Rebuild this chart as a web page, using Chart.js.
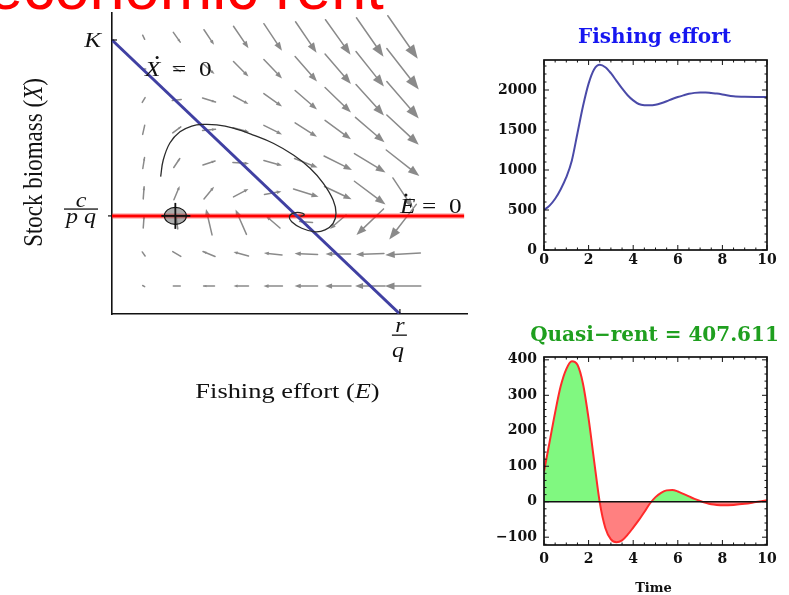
<!DOCTYPE html>
<html>
<head>
<meta charset="utf-8">
<script src="https://cdn.jsdelivr.net/npm/chart.js@4.4.1/dist/chart.umd.min.js"></script>
<style>
  html, body { margin: 0; padding: 0; background: #fff; width: 789px; height: 595px; overflow: hidden; }
  body { position: relative; }
  canvas { position: absolute; }
  #heading { position: absolute; left: -12px; top: -44px; font: 63px/62px "Liberation Sans", Arial, sans-serif; color: #ff0000; white-space: nowrap; }
</style>
</head>
<body>
<div id="heading">economic rent</div>
<canvas id="phase" width="480" height="410" style="left:0;top:0"></canvas>
<canvas id="effort" width="309" height="300" style="left:480px;top:0"></canvas>
<canvas id="rent" width="309" height="295" style="left:480px;top:300px"></canvas>
<script>
// ---- Phase plane (effort E on x, stock biomass X on y; K = 10, r/q = 10) ----
const K = 10;
const rOverQ = 10;
const cOverPQ = 3.58;
const effortAxisMax = 12.33;
const biomassAxisMax = 10.985;
const startE = 2.2;            // marked point on the E-nullcline

// grid of direction-field arrows: centres and components (dE, dX)
const fieldE = [1.1, 2.25, 3.37, 4.48, 5.59, 6.74, 7.85, 8.96, 10.1];
const fieldX = [10.1, 8.94, 7.81, 6.72, 5.51, 4.42, 3.36, 2.19, 1.02];
const fieldU = [
  [0.07, 0.24, 0.35, 0.52, 0.63, 0.73, 0.87, 0.94, 1.04],
  [0.14, 0.24, 0.38, 0.52, 0.63, 0.76, 0.90, 0.97, 1.11],
  [0.10, 0.31, 0.45, 0.52, 0.63, 0.76, 0.90, 0.97, 1.11],
  [0.07, 0.28, 0.45, 0.56, 0.63, 0.76, 0.90, 1.01, 1.11],
  [0.06, 0.21, 0.42, 0.56, 0.63, 0.80, 0.97, 1.08, 1.15],
  [0.03, 0.20, 0.35, 0.52, 0.59, 0.87, 0.94, 1.08, 0.69],
  [0.03, -0.07, -0.21, -0.38, -0.49, -0.45, -0.56, -0.94, -0.94],
  [-0.10, -0.28, -0.42, -0.52, -0.63, -0.80, -0.87, -0.97, -1.22],
  [-0.07, -0.24, -0.38, -0.52, -0.66, -0.80, -0.90, -1.04, -1.25]
];
const fieldV = [
  [-0.15, -0.36, -0.55, -0.80, -0.99, -1.13, -1.28, -1.42, -1.57],
  [0.00, -0.18, -0.36, -0.55, -0.69, -0.91, -1.09, -1.28, -1.50],
  [0.18, 0.04, -0.15, -0.29, -0.47, -0.69, -0.91, -1.13, -1.35],
  [0.33, 0.22, 0.04, -0.15, -0.33, -0.51, -0.69, -0.91, -1.09],
  [0.40, 0.33, 0.15, -0.04, -0.18, -0.33, -0.51, -0.69, -0.95],
  [0.44, 0.50, 0.44, 0.29, 0.11, -0.29, -0.47, -0.85, -1.09],
  [0.44, 0.51, 0.95, 0.91, 0.44, 0.04, -0.51, -0.95, -1.28],
  [0.15, 0.18, 0.18, 0.15, 0.07, 0.04, 0.00, -0.04, -0.07],
  [0.04, 0.00, 0.00, 0.00, 0.00, 0.00, 0.00, 0.00, 0.00]
];

// trajectory spiralling into the bionomic equilibrium
const trajE = [1.69, 1.78, 2.01, 2.36, 2.77, 3.17, 3.64, 4.21, 4.91, 5.60, 6.30, 6.88, 7.34, 7.68, 7.78, 7.68, 7.40, 7.05, 6.59, 6.24, 6.16, 6.30, 6.53, 6.68, 6.55];
const trajX = [5.01, 5.62, 6.24, 6.65, 6.86, 6.92, 6.90, 6.78, 6.53, 6.23, 5.80, 5.32, 4.77, 4.16, 3.68, 3.31, 3.07, 3.00, 3.13, 3.37, 3.55, 3.68, 3.70, 3.62, 3.56];

// ---- Time series ----
const time = [0, 0.25, 0.5, 0.75, 1, 1.25, 1.5, 1.75, 2, 2.25, 2.5, 2.75, 3, 3.25, 3.5, 3.75, 4, 4.25, 4.5, 4.75, 5, 5.25, 5.5, 5.75, 6, 6.25, 6.5, 6.75, 7, 7.25, 7.5, 7.75, 8, 8.5, 9, 9.5, 10];
const effort = [500, 555, 640, 760, 910, 1120, 1460, 1800, 2080, 2260, 2315, 2285, 2210, 2115, 2020, 1935, 1870, 1825, 1810, 1808, 1816, 1835, 1860, 1888, 1912, 1933, 1952, 1964, 1970, 1969, 1962, 1955, 1945, 1922, 1915, 1914, 1914];
const quasiRent = [85, 168, 252, 326, 374, 396, 386, 332, 234, 114, -2, -74, -106, -114, -109, -93, -73, -52, -29, -5, 13, 25, 32, 33, 29, 22, 15, 8, 2, -3, -7, -9, -10, -9, -6, -1, 4];
const rentTotal = '407.611';

const timeTicks = [0, 2, 4, 6, 8, 10];
const effortTicks = [0, 500, 1000, 1500, 2000];
const rentTicks = [-100, 0, 100, 200, 300, 400];

// ---- shared styling ----
const SERIF = '"Liberation Serif", "Times New Roman", serif';
const WIDE_SERIF = '"DejaVu Serif", serif';
const SX = 1.2;   // horizontal stretch of the phase-plane lettering
const ARROW = '#8a8a8a';

function txt(ctx, s, x, y, font, align, sx) {
  ctx.save();
  ctx.translate(x, y);
  ctx.scale(sx === undefined ? SX : sx, 1);
  ctx.font = font;
  ctx.textAlign = align || 'left';
  ctx.textBaseline = 'alphabetic';
  ctx.fillText(s, 0, 0);
  ctx.restore();
}
function seg(ctx, x0, y0, x1, y1) {
  ctx.beginPath(); ctx.moveTo(x0, y0); ctx.lineTo(x1, y1); ctx.stroke();
}

const phaseDecor = {
  id: 'phaseDecor',
  beforeDatasetsDraw(chart) {
    const { ctx, scales: { x, y } } = chart;
    ctx.save();
    ctx.strokeStyle = ARROW;
    ctx.fillStyle = ARROW;
    ctx.lineWidth = 1.5;
    ctx.lineCap = 'round';
    fieldX.forEach((xv, r) => {
      fieldE.forEach((ev, c) => {
        const u = fieldU[r][c], v = fieldV[r][c];
        const x0 = x.getPixelForValue(ev - u / 2), y0 = y.getPixelForValue(xv - v / 2);
        const x1 = x.getPixelForValue(ev + u / 2), y1 = y.getPixelForValue(xv + v / 2);
        const dx = x1 - x0, dy = y1 - y0, L = Math.hypot(dx, dy);
        if (L < 0.8) { ctx.beginPath(); ctx.arc(x0, y0, 0.8, 0, Math.PI * 2); ctx.fill(); return; }
        const ux = dx / L, uy = dy / L;
        const hl = 0.27 * L, hw = 0.1 * L;
        const bx = x1 - ux * hl, by = y1 - uy * hl;
        seg(ctx, x0, y0, L < 14 ? x1 : bx + ux, L < 14 ? y1 : by + uy);
        if (L >= 10) {
          ctx.beginPath();
          ctx.moveTo(x1, y1);
          ctx.lineTo(bx - uy * hw, by + ux * hw);
          ctx.lineTo(bx + uy * hw, by - ux * hw);
          ctx.closePath();
          ctx.fill();
        }
      });
    });
    ctx.restore();
  },
  afterDraw(chart) {
    const { ctx, chartArea: a, scales: { x, y } } = chart;
    ctx.save();
    ctx.fillStyle = '#111';
    ctx.strokeStyle = '#111';
    ctx.lineWidth = 1.2;

    // marked point on the E-nullcline
    const mx = x.getPixelForValue(startE), my = y.getPixelForValue(cOverPQ);
    ctx.beginPath();
    ctx.ellipse(mx, my, 11, 8.5, 0, 0, Math.PI * 2);
    ctx.fillStyle = 'rgba(105,105,105,0.55)';
    ctx.fill();
    ctx.lineWidth = 1.1;
    ctx.stroke();
    ctx.lineWidth = 1.8;
    seg(ctx, mx - 14, my, mx + 15, my);
    seg(ctx, mx, my - 13, mx, my + 13);

    // axis ticks and symbolic labels
    ctx.fillStyle = '#111';
    ctx.lineWidth = 1.2;
    const yK = y.getPixelForValue(K), yC = y.getPixelForValue(cOverPQ), xr = x.getPixelForValue(rOverQ);
    seg(ctx, a.left, yK, a.left + 5, yK);
    seg(ctx, a.left - 4, yC, a.left, yC);
    seg(ctx, xr, a.bottom, xr, a.bottom - 5);

    txt(ctx, 'K', a.left - 11, yK + 7, `italic 21px ${SERIF}`, 'right');

    txt(ctx, 'c', a.left - 31, yC - 9, `italic 20px ${SERIF}`, 'center');
    ctx.fillRect(a.left - 48, yC - 7.5, 34, 1.3);
    txt(ctx, 'p q', a.left - 31, yC + 7, `italic 20px ${SERIF}`, 'center');

    txt(ctx, 'r', xr, a.bottom + 18, `italic 20px ${SERIF}`, 'center');
    ctx.fillRect(xr - 8, a.bottom + 20.5, 15, 1.3);
    txt(ctx, 'q', xr - 2, a.bottom + 43, `italic 20px ${SERIF}`, 'center');

    // nullcline labels
    const lx = x.getPixelForValue(1.15), ly = y.getPixelForValue(8.7);
    txt(ctx, 'X', lx, ly, `italic 21px ${SERIF}`, 'left');
    ctx.beginPath(); ctx.arc(lx + 12, ly - 18, 1.5, 0, Math.PI * 2); ctx.fill();
    txt(ctx, '=', lx + 27, ly, `21px ${SERIF}`, 'left');
    txt(ctx, '0', lx + 54, ly, `21px ${SERIF}`, 'left');

    const ex = x.getPixelForValue(rOverQ), ey = y.getPixelForValue(cOverPQ) - 3;
    txt(ctx, 'E', ex, ey, `italic 21px ${SERIF}`, 'left');
    ctx.beginPath(); ctx.arc(ex + 6, ey - 18, 1.5, 0, Math.PI * 2); ctx.fill();
    txt(ctx, '=', ex + 22, ey, `21px ${SERIF}`, 'left');
    txt(ctx, '0', ex + 49, ey, `21px ${SERIF}`, 'left');

    // axis titles
    const fR = `22px ${SERIF}`, fI = `italic 22px ${SERIF}`;
    ctx.font = fR; const w1 = ctx.measureText('Fishing effort (').width, w3 = ctx.measureText(')').width;
    ctx.font = fI; const w2 = ctx.measureText('E').width;
    const cx = (a.left + a.right) / 2 - 2;
    let sx0 = cx - SX * (w1 + w2 + w3) / 2;
    const by = a.bottom + 84;
    txt(ctx, 'Fishing effort (', sx0, by, fR); sx0 += SX * w1;
    txt(ctx, 'E', sx0, by, fI); sx0 += SX * w2;
    txt(ctx, ')', sx0, by, fR);

    ctx.save();
    ctx.translate(a.left - 70, (a.top + a.bottom) / 2 - 1);
    ctx.rotate(-Math.PI / 2);
    ctx.scale(1, SX);
    const f2 = `23px ${SERIF}`, f2i = `italic 23px ${SERIF}`;
    ctx.font = f2; const v1 = ctx.measureText('Stock biomass (').width, v3 = ctx.measureText(')').width;
    ctx.font = f2i; const v2 = ctx.measureText('X').width;
    let t0 = -(v1 + v2 + v3) / 2;
    ctx.textBaseline = 'alphabetic';
    ctx.font = f2; ctx.fillText('Stock biomass (', t0, 0); t0 += v1;
    ctx.font = f2i; ctx.fillText('X', t0, 0); t0 += v2;
    ctx.font = f2; ctx.fillText(')', t0, 0);
    ctx.restore();

    ctx.restore();
  }
};

new Chart(document.getElementById('phase'), {
  type: 'scatter',
  data: {
    datasets: [
      { data: trajE.map((e, i) => ({ x: e, y: trajX[i] })), showLine: true, borderColor: '#2b2b2b', borderWidth: 1.3, pointRadius: 0, tension: 0.4 },
      { data: [{ x: 0, y: K }, { x: rOverQ, y: 0 }], showLine: true, borderColor: '#4040a2', borderWidth: 3, pointRadius: 0 },
      { data: [{ x: 0, y: cOverPQ }, { x: effortAxisMax - 0.1, y: cOverPQ }], showLine: true, borderColor: '#ff0000', borderWidth: 3, pointRadius: 0 },
      { data: [{ x: 0, y: cOverPQ }, { x: effortAxisMax - 0.1, y: cOverPQ }], showLine: true, borderColor: 'rgba(255,60,60,0.3)', borderWidth: 6, pointRadius: 0 }
    ]
  },
  options: {
    responsive: false, animation: false, events: [],
    layout: { padding: { left: 112, top: 13, right: 13, bottom: 96 } },
    plugins: { legend: { display: false }, tooltip: { enabled: false } },
    scales: {
      x: { type: 'linear', min: 0, max: effortAxisMax, grid: { display: false, drawTicks: false }, ticks: { display: false },
           border: { display: true, color: '#111', width: 1.6 }, afterFit(s) { s.height = 0; } },
      y: { type: 'linear', min: 0, max: biomassAxisMax, grid: { display: false, drawTicks: false }, ticks: { display: false },
           border: { display: true, color: '#111', width: 1.6 }, afterFit(s) { s.width = 0; } }
    }
  },
  plugins: [phaseDecor]
});

// ---- framed time-series panels ----
function framed(cfg) {
  return {
    id: 'framed',
    afterDraw(chart) {
      const { ctx, chartArea: a, scales: { x, y } } = chart;
      ctx.save();
      ctx.strokeStyle = '#111';
      ctx.lineWidth = 1;
      for (let v = x.min; v <= x.max + 1e-9; v += cfg.xMinor) {
        const px = x.getPixelForValue(v);
        const len = Math.abs(v / cfg.xMajor - Math.round(v / cfg.xMajor)) < 1e-6 ? 5 : 2.5;
        seg(ctx, px, a.bottom, px, a.bottom - len);
        seg(ctx, px, a.top, px, a.top + len);
      }
      const y0 = Math.ceil(y.min / cfg.yMinor) * cfg.yMinor;
      for (let v = y0; v <= y.max + 1e-9; v += cfg.yMinor) {
        const py = y.getPixelForValue(v);
        const len = Math.abs(v / cfg.yMajor - Math.round(v / cfg.yMajor)) < 1e-6 ? 5 : 2.5;
        seg(ctx, a.left, py, a.left + len, py);
        seg(ctx, a.right, py, a.right - len, py);
      }
      ctx.lineWidth = 1.7;
      ctx.strokeRect(a.left, a.top, a.right - a.left, a.bottom - a.top);
      ctx.fillStyle = cfg.titleColor;
      ctx.font = `bold 20px ${WIDE_SERIF}`;
      ctx.textAlign = 'center';
      ctx.textBaseline = 'alphabetic';
      ctx.fillText(cfg.title, (a.left + a.right) / 2 - 1, cfg.titleY);
      if (cfg.xTitle) {
        ctx.fillStyle = '#111';
        ctx.font = `bold 13px ${WIDE_SERIF}`;
        ctx.fillText(cfg.xTitle, (a.left + a.right) / 2 - 2, a.bottom + 47);
      }
      ctx.restore();
    }
  };
}

const tickFont = { family: WIDE_SERIF, size: 14, weight: 'bold' };
function timeAxis(pad) {
  return {
    type: 'linear', min: 0, max: 10,
    grid: { display: false, drawTicks: false }, border: { display: false },
    afterBuildTicks(s) { s.ticks = timeTicks.map(v => ({ value: v })); },
    ticks: { padding: pad, font: tickFont, color: '#111', maxRotation: 0, autoSkip: false, callback: v => String(v) },
    afterFit(s) { s.height = 20; }
  };
}

new Chart(document.getElementById('effort'), {
  type: 'line',
  data: {
    datasets: [{
      data: time.map((t, i) => ({ x: t, y: effort[i] })),
      borderColor: '#4a4aa8', borderWidth: 2, pointRadius: 0, cubicInterpolationMode: 'monotone', fill: false
    }]
  },
  options: {
    responsive: false, animation: false, events: [],
    layout: { padding: { left: 0, top: 60, right: 22, bottom: 30 } },
    plugins: { legend: { display: false }, tooltip: { enabled: false } },
    scales: {
      x: timeAxis(2),
      y: {
        type: 'linear', min: 0, max: 2375,
        grid: { display: false, drawTicks: false }, border: { display: false },
        afterBuildTicks(s) { s.ticks = effortTicks.map(v => ({ value: v })); },
        ticks: { padding: 7, font: tickFont, color: '#111', callback: v => String(v) },
        afterFit(s) { s.width = 64; }
      }
    }
  },
  plugins: [framed({ xMinor: 0.5, xMajor: 2, yMinor: 100, yMajor: 500, title: 'Fishing effort', titleColor: '#1616f0', titleY: 43 })]
});

new Chart(document.getElementById('rent'), {
  type: 'line',
  data: {
    datasets: [
      { data: [{ x: 0, y: 0 }, { x: 10, y: 0 }], borderColor: '#111', borderWidth: 1.5, pointRadius: 0, fill: false },
      {
        data: time.map((t, i) => ({ x: t, y: quasiRent[i] })),
        borderColor: '#ff2a2a', borderWidth: 2, pointRadius: 0, cubicInterpolationMode: 'monotone',
        fill: { target: 'origin', above: 'rgb(128,248,128)', below: 'rgb(255,128,128)' }
      }
    ]
  },
  options: {
    responsive: false, animation: false, events: [],
    layout: { padding: { left: 0, top: 57, right: 22, bottom: 30 } },
    plugins: { legend: { display: false }, tooltip: { enabled: false }, filler: { propagate: false } },
    scales: {
      x: timeAxis(6),
      y: {
        type: 'linear', min: -122, max: 408,
        grid: { display: false, drawTicks: false }, border: { display: false },
        afterBuildTicks(s) { s.ticks = rentTicks.map(v => ({ value: v })); },
        ticks: { padding: 7, font: tickFont, color: '#111', callback: v => (v < 0 ? '\u2212' + Math.abs(v) : String(v)) },
        afterFit(s) { s.width = 64; }
      }
    }
  },
  plugins: [framed({ xMinor: 0.5, xMajor: 2, yMinor: 20, yMajor: 100, title: 'Quasi\u2212rent = ' + rentTotal, titleColor: '#1f9f1f', titleY: 41, xTitle: 'Time' })]
});
</script>
</body>
</html>
